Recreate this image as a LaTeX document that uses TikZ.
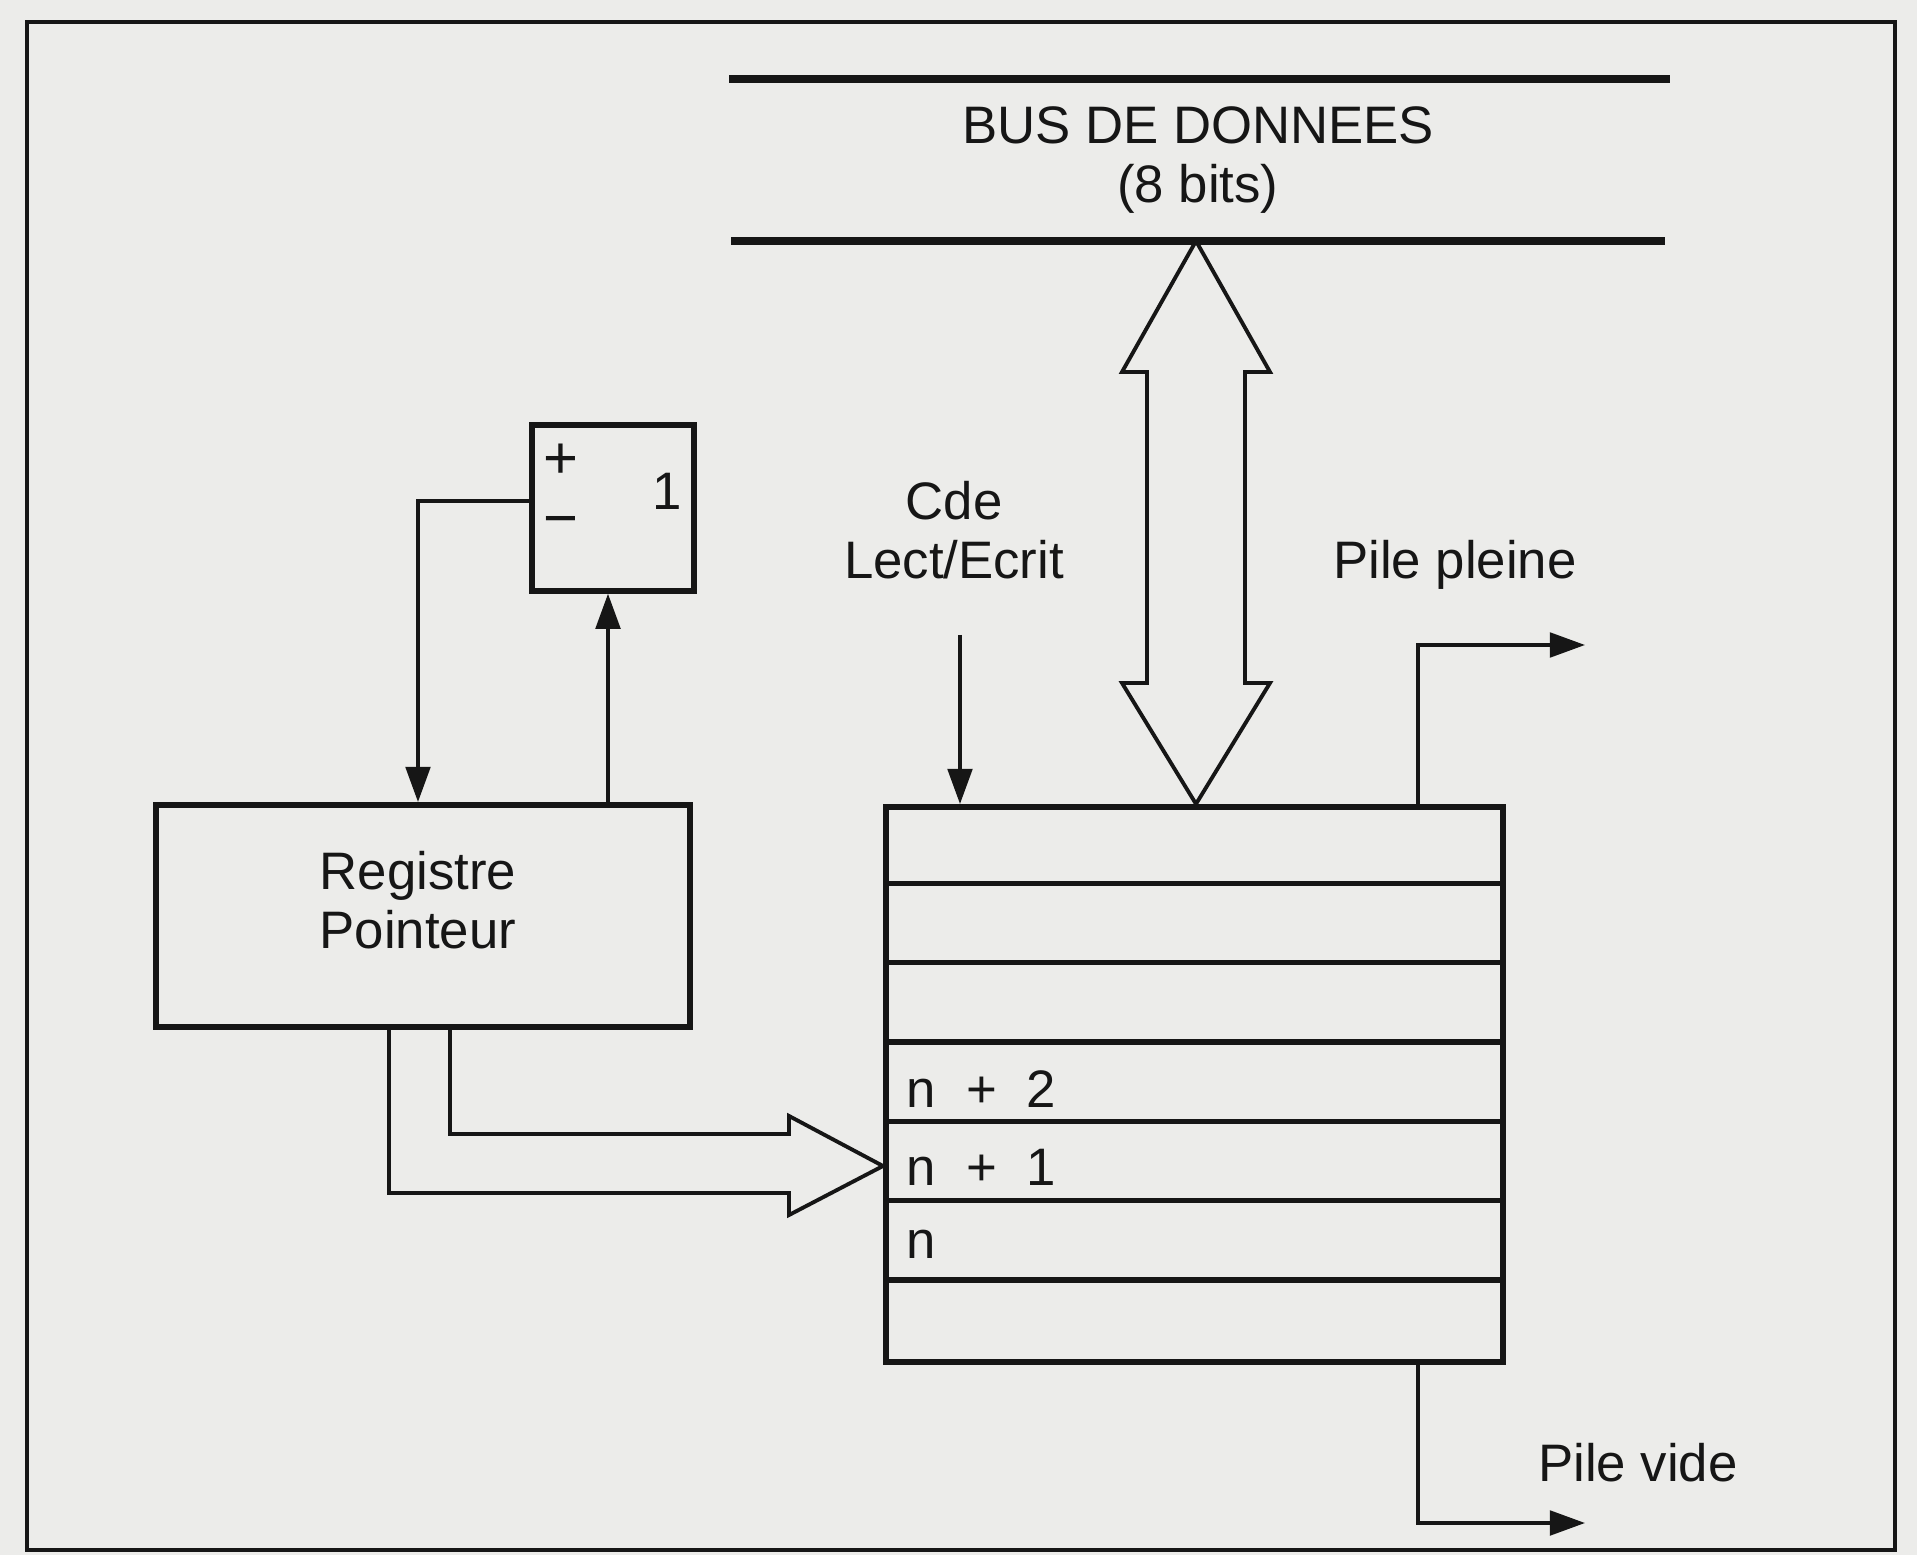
\documentclass[tikz,border=0pt]{standalone}
\usepackage{fontspec}
\setmainfont{Liberation Sans}
\usetikzlibrary{arrows.meta}
\definecolor{paper}{RGB}{236,236,234}
\definecolor{ink}{RGB}{22,22,22}
\begin{document}
\begin{tikzpicture}[x=0.01cm,y=-0.01cm,
  boxline/.style={draw=ink, line width=1.6pt},
  lbl/.style={font=\fontsize{15}{16.8}\selectfont, text=ink, align=center, inner sep=0pt},
  biglbl/.style={font=\fontsize{17}{18}\selectfont, text=ink, inner sep=0pt},
  wire/.style={draw=ink, line width=1pt},
  tipped/.style={-{Triangle[length=10pt,width=7pt]}},
  rowline/.style={draw=ink, line width=1.5pt},
  busline/.style={draw=ink, line width=2.3pt},
  hollow/.style={draw=ink, line width=1.1pt, line join=miter}
]
\fill[paper] (0,0) rectangle (1917,1555);
\useasboundingbox (0,0) rectangle (1917,1555);
\draw[ink, line width=0.9pt] (27,22) rectangle (1895,1550);

% data bus
\coordinate (busA1) at (729,79);  \coordinate (busA2) at (1670,79);
\coordinate (busB1) at (731,241); \coordinate (busB2) at (1665,241);
\draw[busline] (busA1) -- (busA2);
\draw[busline] (busB1) -- (busB2);
\node[lbl] (bustxt) at (1198,160) {BUS DE DONNEES\\(8 bits)};

% stack
\node[boxline, minimum width=6.17cm, minimum height=5.55cm, anchor=north west, inner sep=0pt] (stack) at (883,804) {};
\foreach \i in {1,...,6}
  \draw[rowline] ([yshift=-\i*0.793cm]stack.north west) -- ([yshift=-\i*0.793cm]stack.north east);
\node[lbl, anchor=west] (r2) at (906,1089) {n\hspace{0.3cm}+\hspace{0.3cm}2};
\node[lbl, anchor=west] (r1) at (906,1167) {n\hspace{0.3cm}+\hspace{0.3cm}1};
\node[lbl, anchor=west] (r0) at (906,1244) {n};

% double hollow arrow bus <-> stack
\coordinate (dtop) at (1196,241);
\draw[hollow] (dtop) -- ++(74,131) -- ++(-25,0) -- ++(0,311) -- ++(25,0)
  -- (dtop |- stack.north) -- ++(-74,-121) -- ++(25,0) -- ++(0,-311) -- ++(-25,0) -- cycle;

% read/write command
\node[lbl] (cde) at (954,530) {Cde\\Lect/Ecrit};
\coordinate (cdein) at (960,635);
\draw[wire, tipped] (cdein) -- (cdein |- stack.north);

% stack full
\node[lbl] (pptxt) at (1455,565) {Pile pleine};
\coordinate (ppcorner) at (1418,645);
\coordinate (ppend) at (1585,645);
\draw[wire, tipped] (ppcorner |- stack.north) -- (ppcorner) -- (ppend);

% stack empty
\node[lbl] (pvtxt) at (1638,1463) {Pile vide};
\coordinate (pvcorner) at (1418,1523);
\coordinate (pvend) at (1585,1523);
\draw[wire, tipped] (pvcorner |- stack.south) -- (pvcorner) -- (pvend);

% pointer register
\node[boxline, minimum width=5.34cm, minimum height=2.22cm, anchor=north west, inner sep=0pt] (reg) at (153,802) {};
\node[lbl] (regtxt) at (418,900) {Registre\\Pointeur};

% +/- 1 box
\node[boxline, minimum width=1.62cm, minimum height=1.66cm, anchor=north west, inner sep=0pt] (pm) at (529,422) {};
\node[biglbl] (plus) at (561,461) {+};
\node[biglbl] (minus) at (561,527) {\char"2212};
\node[lbl] (one) at (667,491) {1};

% feedback loop
\coordinate (fb) at (418,501);
\draw[wire, tipped] (pm.west |- fb) -- (fb) -- (fb |- reg.north);
\coordinate (upx) at (608,802);
\draw[wire, tipped] (upx) -- (upx |- pm.south);

% hollow arrow register -> stack
\coordinate (hin) at (450,1134);
\coordinate (hout) at (389,1193);
\coordinate (hbase) at (789,1166);
\coordinate (htip) at (stack.west |- hbase);
\draw[hollow] (hin |- reg.south) -- (hin) -- (hin -| hbase) -- ([yshift=0.5cm]hbase) -- (htip)
  -- ([yshift=-0.49cm]hbase) -- (hout -| hbase) -- (hout) -- (hout |- reg.south);
\end{tikzpicture}
\end{document}
